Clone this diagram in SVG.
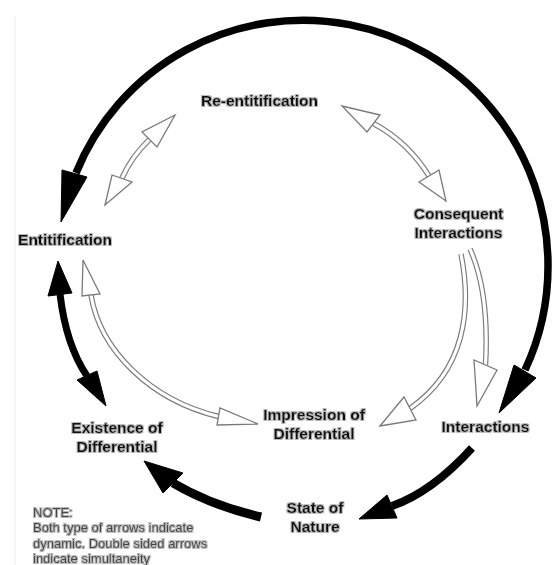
<svg xmlns="http://www.w3.org/2000/svg" width="554" height="565" viewBox="0 0 554 565">
  <defs>
    <filter id="halo" x="-10%" y="-30%" width="120%" height="160%">
      <feMorphology in="SourceAlpha" operator="dilate" radius="0.8" result="d"/>
      <feGaussianBlur in="d" stdDeviation="0.7" result="b"/>
      <feFlood flood-color="#9a9a9a" flood-opacity="0.7"/>
      <feComposite in2="b" operator="in" result="g"/>
      <feMerge><feMergeNode in="g"/><feMergeNode in="SourceGraphic"/></feMerge>
    </filter>
  </defs>
  <style>
    .lbl { font-family: "Liberation Sans", Arial, sans-serif; font-weight: bold; font-size: 15.5px; fill: #111; text-anchor: middle; filter: url(#halo); }
    .note { font-family: "Liberation Sans", Arial, sans-serif; font-size: 13px; fill: #444; filter: url(#halo); }
    .blk { fill: none; stroke: #000; stroke-linecap: butt; }
    .bhead { fill: #000; stroke: #000; stroke-width: 1; stroke-linejoin: round; }
    .oout { fill: none; stroke: #7a7a7a; stroke-width: 5.5; }
    .oin { fill: none; stroke: #fff; stroke-width: 3.2; }
    .ohead { fill: #fff; stroke: #7a7a7a; stroke-width: 1.3; stroke-linejoin: miter; }
  </style>
  <rect width="554" height="565" fill="#fff"/>
  <line x1="15" y1="15" x2="15" y2="565" stroke="#ececec" stroke-width="1"/>

  <g id="connectors">
    <!-- big outer arc: Interactions loop to Entitification -->
    <path class="blk" stroke-width="7.5" d="M 76,173 A 245 245 0 0 1 548,264 A 245 245 0 0 1 525,370"/>
    <polygon class="bhead" points="61,222 62,170 87,177"/>
    <polygon class="bhead" points="499,413 514,365 536,378"/>

    <!-- Interactions -> State of Nature -->
    <path class="blk" stroke-width="8" d="M 472,448 Q 432,492 392,506"/>
    <polygon class="bhead" points="359,519 387,495 397,518"/>

    <!-- State of Nature -> Existence of Differential -->
    <path class="blk" stroke-width="9" d="M 261,517 Q 210,505 173,483"/>
    <polygon class="bhead" points="144,461 163,493 183,473"/>

    <!-- Entitification <-> Existence of Differential -->
    <path class="blk" stroke-width="7" d="M 60,294 Q 66,345 87,376"/>
    <polygon class="bhead" points="58,261 48,296 72,293"/>
    <polygon class="bhead" points="106,406 77,380 97,371"/>

    <!-- Entitification <-> Re-entitification -->
    <path class="oout" d="M 122,178 Q 132,156 149.5,139.5"/>
    <path class="oin" d="M 122,178 Q 132,156 149.5,139.5"/>
    <polygon class="ohead" points="175,115 142,132 157,147"/>
    <polygon class="ohead" points="105,205 112,175 132,182"/>

    <!-- Re-entitification <-> Consequent Interactions -->
    <path class="oout" d="M 373.5,123.5 Q 408,142 429,176"/>
    <path class="oin" d="M 373.5,123.5 Q 408,142 429,176"/>
    <polygon class="ohead" points="342,106 380,115 367,132"/>
    <polygon class="ohead" points="446,201 419,182 439,170"/>

    <!-- Consequent Interactions -> Impression of Differential -->
    <path class="oout" d="M 461,254 C 472,310 465,370 410,408.5"/>
    <path class="oin" d="M 461,254 C 472,310 465,370 410,408.5"/>
    <polygon class="ohead" points="380,426 404,397 416,420"/>

    <!-- Consequent Interactions -> Interactions -->
    <path class="oout" d="M 470,249 C 484,280 488,320 485.5,365"/>
    <path class="oin" d="M 470,249 C 484,280 488,320 485.5,365"/>
    <polygon class="ohead" points="477,406 474,360 497,370"/>

    <!-- Entitification <-> Impression of Differential -->
    <path class="oout" d="M 91,295 C 100,350 150,400 218.5,416.5"/>
    <path class="oin" d="M 91,295 C 100,350 150,400 218.5,416.5"/>
    <polygon class="ohead" points="83,260 82,296 100,294"/>
    <polygon class="ohead" points="258,424 220,408 217,425"/>
  </g>

  <g id="re-entitification"><text class="lbl" x="259.5" y="106">Re-entitification</text></g>
  <g id="entitification"><text class="lbl" x="65" y="245">Entitification</text></g>
  <g id="consequent-interactions">
    <text class="lbl" x="458.5" y="219">Consequent</text>
    <text class="lbl" x="458.5" y="238">Interactions</text>
  </g>
  <g id="interactions"><text class="lbl" x="485.5" y="432">Interactions</text></g>
  <g id="impression-of-differential">
    <text class="lbl" x="314" y="420">Impression of</text>
    <text class="lbl" x="314" y="439">Differential</text>
  </g>
  <g id="existence-of-differential">
    <text class="lbl" x="117" y="433">Existence of</text>
    <text class="lbl" x="117" y="452">Differential</text>
  </g>
  <g id="state-of-nature">
    <text class="lbl" x="315" y="513">State of</text>
    <text class="lbl" x="315" y="532">Nature</text>
  </g>
  <g id="note">
    <text class="note" x="33" y="517">NOTE:</text>
    <text class="note" x="33" y="532">Both type of arrows indicate</text>
    <text class="note" x="33" y="548">dynamic. Double sided arrows</text>
    <text class="note" x="33" y="563">indicate simultaneity</text>
  </g>
</svg>
